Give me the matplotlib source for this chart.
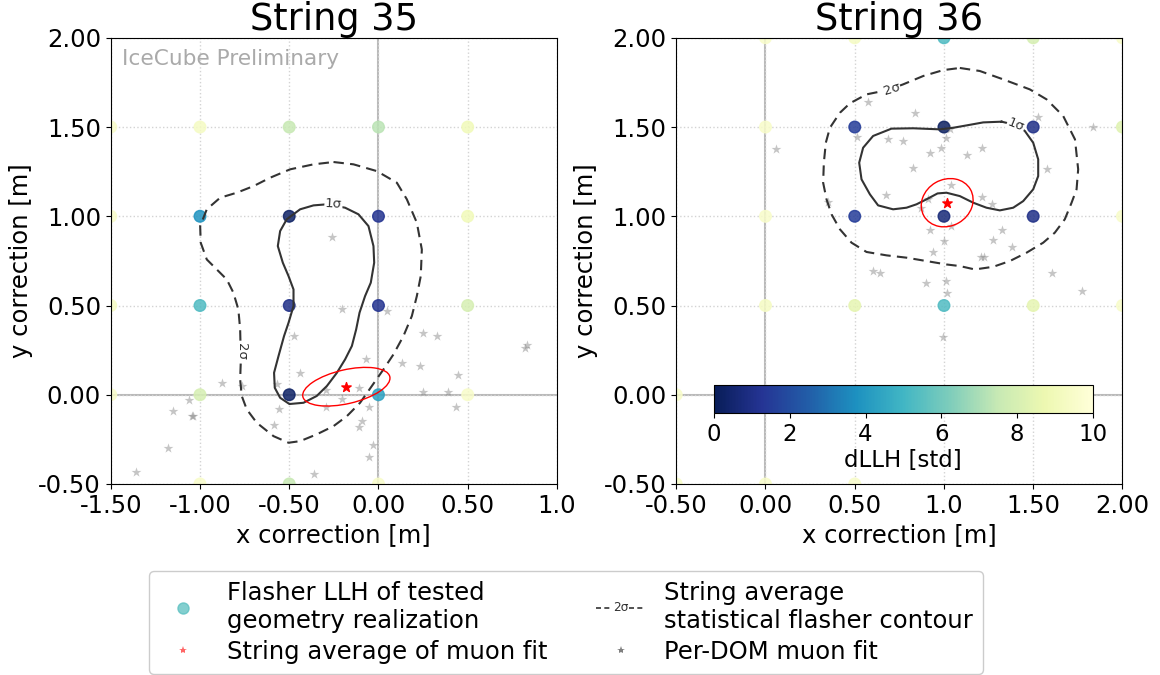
import numpy as np
import matplotlib
matplotlib.use("Agg")
import matplotlib.pyplot as plt
from matplotlib.patches import Ellipse
from matplotlib.lines import Line2D
from matplotlib.text import Text
from matplotlib.legend_handler import HandlerBase

# ---------------- data ----------------
# flasher LLH of tested geometry realizations (grid of x/y shifts), dLLH in std
dom35_x = [-1.5, -1.0, -0.5, 0.0, 0.5,
           -1.5, -1.0, -0.5, 0.0, 0.5,
           -1.5, -1.0, -0.5, 0.0, 0.5,
           -1.5, -1.0, -0.5, 0.0, 0.5,
           -1.0, -0.5, 0.0]
dom35_y = [1.5, 1.5, 1.5, 1.5, 1.5,
           1.0, 1.0, 1.0, 1.0, 1.0,
           0.5, 0.5, 0.5, 0.5, 0.5,
           0.0, 0.0, 0.0, 0.0, 0.0,
           -0.5, -0.5, -0.5]
dom35_llh = [9.5, 9.3, 7.5, 7.3, 9.0,
             9.5, 3.8, 0.3, 1.2, 9.0,
             9.3, 5.3, 1.0, 1.2, 8.0,
             9.5, 8.0, 0.3, 4.3, 9.5,
             9.5, 7.5, 9.5]

dom36_x = [0.0, 0.5, 1.0, 1.5, 2.0,
           0.0, 0.5, 1.0, 1.5, 2.0,
           0.0, 0.5, 1.0, 1.5, 2.0,
           0.0, 0.5, 1.0, 1.5, 2.0,
           -0.5, -0.5, 0.0, 0.5]
dom36_y = [2.0, 2.0, 2.0, 2.0, 2.0,
           1.5, 1.5, 1.5, 1.5, 1.5,
           1.0, 1.0, 1.0, 1.0, 1.0,
           0.5, 0.5, 0.5, 0.5, 0.5,
           0.0, -0.5, -0.5, -0.5]
dom36_llh = [9.5, 9.3, 5.3, 8.0, 9.5,
             9.5, 1.5, 0.2, 1.0, 8.3,
             9.5, 1.5, 0.7, 1.0, 9.5,
             9.3, 8.5, 5.3, 8.5, 9.5,
             9.5, 9.5, 9.5, 9.5]

# per-DOM muon fits
mu35_x = [-0.261, -0.204, 0.047, -0.473, 0.252, 0.327, 0.831, 0.822, -0.069, 0.131,
          0.234, 0.443, -0.437, -0.878, -0.766, -0.570, -0.108, 0.252, 0.392, -0.293,
          -0.205, -1.061, -1.154, -1.046, -1.040, -0.560, -0.293, -0.052, 0.432, -0.588,
          -0.090, -0.108, -0.032, -1.177, -0.054, -1.358, -0.364]
mu35_y = [0.884, 0.478, 0.469, 0.329, 0.344, 0.327, 0.276, 0.263, 0.198, 0.179,
          0.159, 0.108, 0.120, 0.064, 0.049, 0.062, 0.035, 0.015, 0.015, 0.026,
          -0.026, -0.030, -0.092, -0.120, -0.120, -0.082, -0.067, -0.067, -0.069, -0.172,
          -0.149, -0.179, -0.280, -0.299, -0.351, -0.433, -0.446]

mu36_x = [0.573, 0.837, 1.528, 1.836, 1.033, 0.514, 1.011, 0.689, 0.768, 0.058,
          0.981, 1.214, 0.923, 1.130, 0.828, 1.575, 1.037, 0.678, 1.214, 0.913,
          0.351, 1.270, 0.874, 1.037, 0.921, 1.326, 0.998, 1.276, 1.380, 0.940,
          1.205, 1.223, 0.603, 0.641, 1.608, 1.011, 0.902, 1.771, 1.018, 0.994]
mu36_y = [1.640, 1.577, 1.558, 1.500, 1.487, 1.446, 1.438, 1.431, 1.420, 1.379,
          1.382, 1.382, 1.354, 1.341, 1.268, 1.267, 1.177, 1.117, 1.110, 1.098,
          1.080, 1.067, 1.044, 0.945, 0.921, 0.921, 0.859, 0.867, 0.826, 0.800,
          0.773, 0.773, 0.693, 0.684, 0.684, 0.639, 0.624, 0.583, 0.572, 0.325]

# string average of muon fit (center x, y, ellipse width, height, angle)
avg35 = [-0.180, 0.045, 0.50, 0.19, 13]
avg36 = [1.018, 1.076, 0.30, 0.26, 30]

# statistical flasher contours (1 sigma solid, 2 sigma dashed)
c35_1s_x = [-0.289, -0.187, -0.112, -0.056, -0.028, -0.024, -0.043, -0.075, -0.106, -0.125,
            -0.149, -0.187, -0.233, -0.289, -0.346, -0.420, -0.499, -0.551, -0.581, -0.585,
            -0.560, -0.529, -0.504, -0.476, -0.476, -0.504, -0.536, -0.564, -0.551, -0.514,
            -0.439, -0.364]
c35_1s_y = [1.067, 1.048, 1.011, 0.945, 0.833, 0.740, 0.628, 0.553, 0.460, 0.366,
            0.273, 0.198, 0.123, 0.049, -0.007, -0.045, -0.052, -0.017, 0.039, 0.123,
            0.217, 0.329, 0.403, 0.497, 0.590, 0.665, 0.740, 0.833, 0.917, 0.983,
            1.039, 1.061]
c35_2s_x = [-0.252, -0.140, -0.009, 0.103, 0.159, 0.215, 0.243, 0.237, 0.215, 0.187,
            0.140, 0.084, 0.028, -0.037, -0.103, -0.177, -0.252, -0.346, -0.439, -0.504,
            -0.588, -0.682, -0.738, -0.766, -0.775, -0.771, -0.775, -0.785, -0.813, -0.850,
            -0.906, -0.962, -0.996, -0.999, -0.962, -0.887, -0.794, -0.700, -0.607, -0.495,
            -0.364]
c35_2s_y = [1.304, 1.291, 1.253, 1.188, 1.095, 0.964, 0.814, 0.665, 0.553, 0.441,
            0.329, 0.226, 0.142, 0.049, -0.045, -0.120, -0.176, -0.222, -0.260, -0.269,
            -0.232, -0.157, -0.082, -0.007, 0.086, 0.198, 0.366, 0.478, 0.572, 0.646,
            0.702, 0.758, 0.852, 0.945, 1.039, 1.104, 1.132, 1.169, 1.216, 1.263,
            1.291]

c36_1s_x = [1.323, 1.403, 1.453, 1.500, 1.528, 1.528, 1.500, 1.444, 1.388, 1.313,
            1.238, 1.164, 1.089, 1.014, 0.964, 0.902, 0.846, 0.790, 0.715, 0.631,
            0.585, 0.538, 0.525, 0.547, 0.603, 0.706, 0.828, 0.977, 1.052, 1.126,
            1.220]
c36_1s_y = [1.530, 1.511, 1.478, 1.412, 1.319, 1.225, 1.151, 1.085, 1.048, 1.033,
            1.048, 1.076, 1.113, 1.132, 1.128, 1.095, 1.067, 1.048, 1.039, 1.061,
            1.123, 1.207, 1.300, 1.384, 1.450, 1.491, 1.493, 1.487, 1.496, 1.509,
            1.526]
c36_2s_x = [1.089, 1.201, 1.332, 1.481, 1.575, 1.668, 1.734, 1.752, 1.743, 1.715,
            1.677, 1.621, 1.556, 1.463, 1.369, 1.276, 1.173, 1.089, 1.014, 0.902,
            0.790, 0.678, 0.566, 0.482, 0.417, 0.370, 0.342, 0.323, 0.327, 0.338,
            0.361, 0.417, 0.473, 0.566, 0.659, 0.706, 0.771, 0.884, 0.996]
c36_2s_y = [1.831, 1.814, 1.767, 1.711, 1.655, 1.562, 1.431, 1.263, 1.151, 1.076,
            0.983, 0.908, 0.852, 0.796, 0.749, 0.717, 0.702, 0.721, 0.730, 0.749,
            0.768, 0.781, 0.800, 0.852, 0.927, 1.011, 1.095, 1.188, 1.300, 1.412,
            1.496, 1.580, 1.633, 1.683, 1.702, 1.715, 1.739, 1.786, 1.819]

# contour label positions: x, y, rotation
lab35_1s = [-0.252, 1.067, -3]
lab35_2s = [-0.766, 0.245, -90]
lab36_1s = [1.403, 1.511, -22]
lab36_2s = [0.706, 1.715, 18]

ticks = [-1.5, -1.0, -0.5, 0.0, 0.5, 1.0, 1.5, 2.0]
ticklabels = ["-1.50", "-1.00", "-0.50", "0.00", "0.50", "1.0", "1.50", "2.00"]
y_ticklabels = ["-1.50", "-1.00", "-0.50", "0.00", "0.50", "1.00", "1.50", "2.00"]

cmap = plt.get_cmap("YlGnBu_r")
FS = 17.5


class ContourHandler(HandlerBase):
    # dashed line with a small "2σ" in the middle
    def create_artists(self, legend, orig_handle, xdescent, ydescent,
                       width, height, fontsize, trans):
        y = height / 2 - ydescent
        x0 = -xdescent
        gap = 0.36 * width
        seg = (width - gap) / 2
        l1 = Line2D([x0, x0 + seg], [y, y], ls=(0, (3, 2)), color="#333333",
                    lw=1.2, transform=trans)
        l2 = Line2D([x0 + seg + gap, x0 + width], [y, y], ls=(0, (3, 2)),
                    color="#333333", lw=1.2, transform=trans)
        t = Text(x0 + width / 2, y, "2σ", fontsize=fontsize * 0.5, color="#333333",
                 ha="center", va="center", transform=trans)
        return [l1, l2, t]


def contour_line(ax, xs, ys, lab, text, ls):
    #Draws a closed contour and its inline label
    ax.plot(list(xs) + [xs[0]], list(ys) + [ys[0]], color="#333333", lw=1.5,
            ls=ls, zorder=4)
    ax.text(lab[0], lab[1], text, rotation=lab[2], fontsize=9.5, color="#333333",
            ha="center", va="center", rotation_mode="anchor", zorder=5,
            bbox=dict(facecolor="white", edgecolor="none", pad=0.5))


def panel(ax, title, dx, dy, dllh, mx, my, avg, c1, c2, lab1, lab2, xlim):
    ax.set_xlim(xlim)
    ax.set_ylim(-0.5, 2.0)
    ax.set_aspect("equal", adjustable="box")

    xt = [t for t in ticks if xlim[0] - 1e-6 <= t <= xlim[1] + 1e-6]
    ax.set_xticks(xt)
    ax.set_xticklabels([ticklabels[ticks.index(t)] for t in xt])
    yt = [-0.5, 0.0, 0.5, 1.0, 1.5, 2.0]
    ax.set_yticks(yt)
    ax.set_yticklabels([y_ticklabels[ticks.index(t)] for t in yt])
    ax.tick_params(labelsize=FS)

    ax.grid(True, ls=":", color="lightgrey", lw=1)
    ax.axvline(0, color="grey", lw=1.5, alpha=0.55, zorder=1)
    ax.axhline(0, color="grey", lw=1.5, alpha=0.55, zorder=1)

    sc = ax.scatter(dx, dy, c=dllh, cmap=cmap, vmin=0, vmax=10, s=70,
                    alpha=0.85, zorder=2)
    ax.scatter(mx, my, marker="*", color="grey", s=55, alpha=0.45,
               linewidths=0, zorder=3)

    contour_line(ax, c1[0], c1[1], lab1, "1σ", "-")
    contour_line(ax, c2[0], c2[1], lab2, "2σ", (0, (5, 3)))

    ax.scatter([avg[0]], [avg[1]], marker="*", color="red", s=50, zorder=6)
    ax.add_patch(Ellipse((avg[0], avg[1]), avg[2], avg[3], angle=avg[4],
                         facecolor="none", edgecolor="red", lw=1, zorder=6))

    ax.set_title(title, fontsize=26.5, pad=2)
    ax.set_xlabel("x correction [m]", fontsize=FS)
    ax.set_ylabel("y correction [m]", fontsize=FS)
    return sc


fig = plt.figure(figsize=(11.6, 6.75), dpi=100)
ax1 = fig.add_axes([0.0953, 0.283, 0.385, 0.661])
ax2 = fig.add_axes([0.5828, 0.283, 0.385, 0.661])

panel(ax1, "String 35", dom35_x, dom35_y, dom35_llh, mu35_x, mu35_y, avg35,
      (c35_1s_x, c35_1s_y), (c35_2s_x, c35_2s_y), lab35_1s, lab35_2s, (-1.5, 1.0))
sc = panel(ax2, "String 36", dom36_x, dom36_y, dom36_llh, mu36_x, mu36_y, avg36,
           (c36_1s_x, c36_1s_y), (c36_2s_x, c36_2s_y), lab36_1s, lab36_2s, (-0.5, 2.0))

ax1.text(0.026, 0.975, "IceCube Preliminary", transform=ax1.transAxes,
         fontsize=15.6, color="#aaaaaa", ha="left", va="top")

# colorbar inside the right panel
cax = ax2.inset_axes([0.085, 0.159, 0.848, 0.062])
sm = plt.cm.ScalarMappable(cmap=cmap, norm=plt.Normalize(0, 10))
cb = fig.colorbar(sm, cax=cax, orientation="horizontal")
cb.set_ticks([0, 2, 4, 6, 8, 10])
cb.ax.tick_params(labelsize=16.5)
cb.set_label("dLLH [std]", fontsize=16.5, labelpad=2)

# legend below both panels
h_flash = Line2D([], [], ls="none", marker="o", markersize=8,
                 color=cmap(0.55), alpha=0.75)
h_avg = Line2D([], [], ls="none", marker="*", markersize=6,
               color="red", alpha=0.6, markeredgewidth=0)
h_cont = object()
h_dom = Line2D([], [], ls="none", marker="*", markersize=6,
               color="grey", markeredgewidth=0)
fig.legend([h_flash, h_avg, h_cont, h_dom],
           ["Flasher LLH of tested\ngeometry realization",
            "String average of muon fit",
            "String average\nstatistical flasher contour",
            "Per-DOM muon fit"],
           handler_map={h_cont: ContourHandler()},
           loc="upper center", bbox_to_anchor=(0.488, 0.172), ncol=2,
           fontsize=FS, labelspacing=0.3, framealpha=1, edgecolor="#cccccc")

fig.savefig("out.png", dpi=100)
